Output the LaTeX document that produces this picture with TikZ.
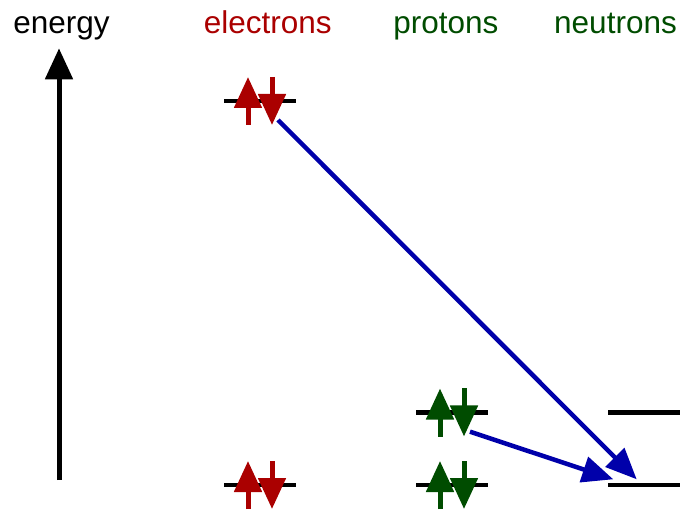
\documentclass[tikz,border=0pt]{standalone}
\usepackage{fontspec}
\setmainfont{Liberation Sans}
\usetikzlibrary{arrows.meta}
\definecolor{ered}{HTML}{AA0000}
\definecolor{pgreen}{HTML}{004C00}
\definecolor{xblue}{HTML}{0000AA}
% draw one occupied level: an up spin left of centre and a down spin right of it
\newcommand\spinpair[2]{%
  \draw[spinarrow,#2] ([shift={(-12,24)}]#1) -- ([shift={(-12,-24)}]#1);
  \draw[spinarrow,#2] ([shift={(12,-24)}]#1) -- ([shift={(12,24)}]#1);}
\newcommand\levelline[1]{%
  \draw[levelline] ([xshift=-36pt]#1) -- ([xshift=36pt]#1);}
\begin{document}
\begin{tikzpicture}[x=1pt,y=-1pt,
  levelline/.style={line width=4.5pt,black},
  spinarrow/.style={line width=5pt,-{Triangle[width=27pt,length=31pt]}},
  decay/.style={line width=4.5pt,xblue,-{Triangle[width=26pt,length=31pt]}},
  heading/.style={anchor=base,font=\fontsize{31.5}{36}\selectfont,inner sep=0pt}]
\useasboundingbox (0,0) rectangle (680,510);

% headings
\node[heading] (henergy) at (61.5,33.3) {energy};
\node[heading,text=ered] (helec) at (267.7,33.3) {electrons};
\node[heading,text=pgreen] (hprot) at (445.8,33.3) {protons};
\node[heading,text=pgreen] (hneut) at (615.5,33.3) {neutrons};

% energy axis
\coordinate (axbot) at (59,480);
\coordinate (axtop) at (59,48.3);
\draw[line width=5pt,-{Triangle[width=27pt,length=31pt]}] (axbot) -- (axtop);

% energy levels
\coordinate (e2) at (260,101);
\coordinate (e1) at (260,485);
\coordinate (p2) at (452,412.5);
\coordinate (p1) at (452,485);
\coordinate (n2) at (644,412.5);
\coordinate (n1) at (644,485);
\foreach \l in {e2,e1,p2,p1,n2,n1} {\levelline{\l}}

% occupied levels
\spinpair{e2}{ered}
\spinpair{e1}{ered}
\spinpair{p2}{pgreen}
\spinpair{p1}{pgreen}

% transitions into the lowest neutron level
\coordinate (estart) at (278,120);
\coordinate (eend) at (636.7,479.3);
\coordinate (pstart) at (470,431.7);
\coordinate (pend) at (613.3,479.3);
\draw[decay] (estart) -- (eend);
\draw[decay] (pstart) -- (pend);
\end{tikzpicture}
\end{document}
